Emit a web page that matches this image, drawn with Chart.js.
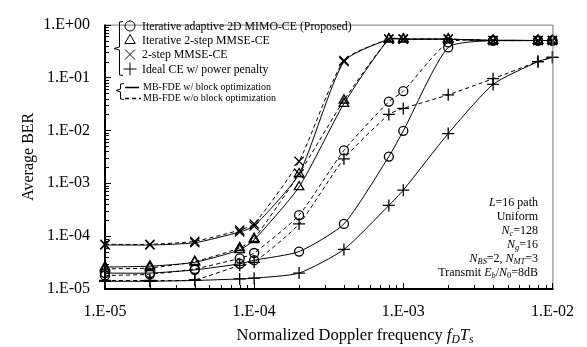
<!DOCTYPE html>
<html>
<head>
<meta charset="utf-8">
<script src="https://cdn.jsdelivr.net/npm/chart.js@4.4.0/dist/chart.umd.min.js"></script>
<style>
html, body { margin: 0; padding: 0; background: #fff; }
#wrap { width: 587px; height: 347px; }
</style>
</head>
<body>
<div id="wrap"><canvas id="c"></canvas></div>
<script>
// Normalized Doppler frequency fD*Ts
var dopplerFreq = [1e-5, 2e-5, 4e-5, 8e-5, 1e-4, 2e-4, 4e-4, 8e-4, 1e-3, 2e-3, 4e-3, 8e-3, 1e-2];

// Average BER
var adaptive2dBlock   = [2.0e-5, 2.0e-5, 2.3e-5, 3.0e-5, 3.5e-5, 5.1e-5, 1.7e-4, 3.2e-3, 9.8e-3, 0.37, 0.5, 0.5, 0.5];
var adaptive2dNoBlock = [1.8e-5, 1.9e-5, 2.4e-5, 3.8e-5, 4.8e-5, 2.5e-4, 4.2e-3, 0.035, 0.055, 0.46, 0.5, 0.5, 0.5];
var iter2stepBlock    = [2.6e-5, 2.7e-5, 3.2e-5, 5.5e-5, 8.5e-5, 8.5e-4, 0.032, 0.53, 0.53, 0.53, 0.5, 0.5, 0.5];
var iter2stepNoBlock  = [2.4e-5, 2.5e-5, 3.3e-5, 6.0e-5, 9.0e-5, 1.5e-3, 0.037, 0.53, 0.53, 0.53, 0.5, 0.5, 0.5];
var mmse2stepBlock    = [6.8e-5, 6.8e-5, 7.5e-5, 1.2e-4, 1.55e-4, 1.5e-3, 0.2, 0.53, 0.53, 0.53, 0.5, 0.5, 0.5];
var mmse2stepNoBlock  = [7.0e-5, 7.0e-5, 8.0e-5, 1.3e-4, 1.7e-4, 2.6e-3, 0.21, 0.53, 0.53, 0.53, 0.5, 0.5, 0.5];
var idealBlock        = [1.4e-5, 1.4e-5, 1.45e-5, 1.55e-5, 1.6e-5, 2.0e-5, 5.6e-5, 3.8e-4, 7.4e-4, 8.7e-3, 0.074, 0.2, 0.24];
var idealNoBlock      = [1.45e-5, 1.45e-5, 1.5e-5, 2.8e-5, 3.2e-5, 1.7e-4, 2.9e-3, 0.020, 0.026, 0.047, 0.095, 0.2, 0.24];

var xDecades = [1e-5, 1e-4, 1e-3, 1e-2];
var yDecades = [1e-5, 1e-4, 1e-3, 1e-2, 1e-1, 1];

var markerLabels = [
    'Iterative adaptive 2D MIMO-CE (Proposed)',
    'Iterative 2-step MMSE-CE',
    '2-step MMSE-CE',
    'Ideal CE w/ power penalty'
];
var lineLabels = ['MB-FDE w/ block optimization', 'MB-FDE w/o block optimization'];

var SERIF = '"Liberation Serif", "DejaVu Serif", serif';

function toPoints(arr) {
    return dopplerFreq.map(function (f, i) { return { x: f, y: arr[i] }; });
}

function makeSet(label, arr, style, radius, dashed) {
    return {
        label: label,
        data: toPoints(arr),
        showLine: true,
        borderColor: '#000',
        borderWidth: 1,
        borderDash: dashed ? [4, 3] : [],
        tension: 0.2,
        pointStyle: style,
        pointRadius: radius,
        pointHoverRadius: radius,
        pointBorderColor: '#000',
        pointBackgroundColor: 'rgba(0,0,0,0)',
        pointBorderWidth: 1.3,
        clip: false
    };
}

function fmtE(v) {
    var e = Math.round(Math.log10(v));
    var a = Math.abs(e);
    return '1.E' + (e < 0 ? '-' : '+') + (a < 10 ? '0' : '') + a;
}

// text runs with italic / subscript parts
function richWidth(ctx, parts, size) {
    var w = 0;
    parts.forEach(function (p) {
        var s = p.sub ? size * 0.7 : size;
        ctx.font = (p.i ? 'italic ' : '') + s + 'px ' + SERIF;
        w += ctx.measureText(p.t).width;
    });
    return w;
}

function drawRich(ctx, parts, x, y, size, align) {
    var w = richWidth(ctx, parts, size);
    var cx = align === 'right' ? x - w : (align === 'center' ? x - w / 2 : x);
    ctx.textAlign = 'left';
    ctx.textBaseline = 'alphabetic';
    parts.forEach(function (p) {
        var s = p.sub ? size * 0.7 : size;
        ctx.font = (p.i ? 'italic ' : '') + s + 'px ' + SERIF;
        ctx.fillText(p.t, cx, p.sub ? y + size * 0.2 : y);
        cx += ctx.measureText(p.t).width;
    });
}

var framePlugin = {
    id: 'frame',
    afterDraw: function (chart) {
        var ctx = chart.ctx;
        var a = chart.chartArea;
        var xs = chart.scales.x, ys = chart.scales.y;
        ctx.save();

        // thin top/right border
        ctx.strokeStyle = '#777';
        ctx.lineWidth = 1;
        ctx.beginPath();
        ctx.moveTo(a.left, a.top + 0.5);
        ctx.lineTo(a.right + 0.5, a.top + 0.5);
        ctx.lineTo(a.right + 0.5, a.bottom);
        ctx.stroke();

        // inward ticks
        ctx.strokeStyle = '#000';
        ctx.lineWidth = 1;
        ctx.beginPath();
        xDecades.forEach(function (d, i) {
            var px = Math.round(xs.getPixelForValue(d)) + 0.5;
            ctx.moveTo(px, a.bottom); ctx.lineTo(px, a.bottom - 6);
            if (i < xDecades.length - 1) {
                for (var k = 2; k <= 9; k++) {
                    var mx = Math.round(xs.getPixelForValue(k * d)) + 0.5;
                    ctx.moveTo(mx, a.bottom); ctx.lineTo(mx, a.bottom - 4);
                }
            }
        });
        yDecades.forEach(function (d, i) {
            var py = Math.round(ys.getPixelForValue(d)) + 0.5;
            ctx.moveTo(a.left, py); ctx.lineTo(a.left + 6, py);
            if (i < yDecades.length - 1) {
                for (var k = 2; k <= 9; k++) {
                    var my = Math.round(ys.getPixelForValue(k * d)) + 0.5;
                    ctx.moveTo(a.left, my); ctx.lineTo(a.left + 4, my);
                }
            }
        });
        ctx.stroke();

        // thick left/bottom axes
        ctx.lineWidth = 2;
        ctx.beginPath();
        ctx.moveTo(a.left, a.top);
        ctx.lineTo(a.left, a.bottom);
        ctx.lineTo(a.right + 1, a.bottom);
        ctx.stroke();

        ctx.fillStyle = '#000';

        // axis titles
        drawRich(ctx, [
            { t: 'Normalized Doppler frequency ' },
            { t: 'f', i: true }, { t: 'D', i: true, sub: true },
            { t: 'T', i: true }, { t: 's', i: true, sub: true }
        ], 355, 340, 16.5, 'center');

        ctx.save();
        ctx.translate(29, (a.top + a.bottom) / 2);
        ctx.rotate(-Math.PI / 2);
        ctx.font = '16px ' + SERIF;
        ctx.textAlign = 'center';
        ctx.textBaseline = 'middle';
        ctx.fillText('Average BER', 0, 0);
        ctx.restore();

        // legend brackets
        ctx.lineWidth = 1;
        ctx.beginPath();
        ctx.moveTo(123, 21.5); ctx.lineTo(119.5, 22); ctx.lineTo(119.5, 47);
        ctx.lineTo(114, 48.5); ctx.lineTo(119.5, 50); ctx.lineTo(119.5, 75); ctx.lineTo(123, 75.5);
        ctx.moveTo(124, 83.5); ctx.lineTo(120.5, 84); ctx.lineTo(120.5, 89);
        ctx.lineTo(116, 90.5); ctx.lineTo(120.5, 92); ctx.lineTo(120.5, 99); ctx.lineTo(124, 99.5);
        ctx.stroke();

        // legend markers
        var styles = [['circle', 5], ['triangle', 6], ['crossRot', 7], ['cross', 6.5]];
        var my = [26, 40.5, 54.5, 69];
        ctx.fillStyle = 'rgba(0,0,0,0)';
        ctx.strokeStyle = '#000';
        styles.forEach(function (s, i) {
            Chart.helpers.drawPoint(ctx, {
                pointStyle: s[0], radius: s[1], rotation: 0, borderWidth: 1.4
            }, 130, my[i]);
        });
        ctx.fillStyle = '#000';
        ctx.font = '11.8px ' + SERIF;
        ctx.textAlign = 'left';
        ctx.textBaseline = 'middle';
        markerLabels.forEach(function (t, i) { ctx.fillText(t, 142, my[i] + 0.5); });

        // legend line samples
        ctx.lineWidth = 1.5;
        ctx.beginPath();
        ctx.moveTo(125, 87.5); ctx.lineTo(139, 87.5);
        ctx.stroke();
        ctx.setLineDash([4, 3]);
        ctx.beginPath();
        ctx.moveTo(125, 98.5); ctx.lineTo(141, 98.5);
        ctx.stroke();
        ctx.setLineDash([]);
        ctx.font = '10px ' + SERIF;
        ctx.fillText(lineLabels[0], 143, 87.5);
        ctx.fillText(lineLabels[1], 143, 98.5);

        // parameter annotation
        var notes = [
            [{ t: 'L', i: true }, { t: '=16 path' }],
            [{ t: 'Uniform' }],
            [{ t: 'N', i: true }, { t: 'c', i: true, sub: true }, { t: '=128' }],
            [{ t: 'N', i: true }, { t: 'g', i: true, sub: true }, { t: '=16' }],
            [{ t: 'N', i: true }, { t: 'BS', i: true, sub: true }, { t: '=2, ' },
             { t: 'N', i: true }, { t: 'MT', i: true, sub: true }, { t: '=3' }],
            [{ t: 'Transmit ' }, { t: 'E', i: true }, { t: 'b', i: true, sub: true },
             { t: '/' }, { t: 'N', i: true }, { t: '0', sub: true }, { t: '=8dB' }]
        ];
        notes.forEach(function (n, i) { drawRich(ctx, n, 538, 206 + i * 14, 12, 'right'); });

        ctx.restore();
    }
};

new Chart(document.getElementById('c'), {
    type: 'scatter',
    data: {
        datasets: [
            makeSet('adaptive2dBlock', adaptive2dBlock, 'circle', 4.5, false),
            makeSet('adaptive2dNoBlock', adaptive2dNoBlock, 'circle', 4.5, true),
            makeSet('iter2stepBlock', iter2stepBlock, 'triangle', 5.5, false),
            makeSet('iter2stepNoBlock', iter2stepNoBlock, 'triangle', 5.5, true),
            makeSet('mmse2stepBlock', mmse2stepBlock, 'crossRot', 6.5, false),
            makeSet('mmse2stepNoBlock', mmse2stepNoBlock, 'crossRot', 6.5, true),
            makeSet('idealBlock', idealBlock, 'cross', 6, false),
            makeSet('idealNoBlock', idealNoBlock, 'cross', 6, true)
        ]
    },
    options: {
        responsive: true,
        maintainAspectRatio: false,
        animation: false,
        layout: { padding: { top: 15, right: 34, left: 0, bottom: 0 } },
        plugins: { legend: { display: false }, tooltip: { enabled: false } },
        scales: {
            x: {
                type: 'logarithmic',
                min: 1e-5,
                max: 1e-2,
                grid: { display: false, drawTicks: false },
                border: { display: false },
                afterBuildTicks: function (s) { s.ticks = xDecades.map(function (v) { return { value: v, major: true }; }); },
                afterFit: function (s) { s.height = 58; },
                ticks: {
                    autoSkip: false,
                    maxRotation: 0,
                    padding: 13,
                    color: '#000',
                    font: { family: SERIF, size: 16 },
                    callback: function (v) { return fmtE(v); }
                }
            },
            y: {
                type: 'logarithmic',
                min: 1e-5,
                max: 1,
                grid: { display: false, drawTicks: false },
                border: { display: false },
                afterBuildTicks: function (s) { s.ticks = yDecades.map(function (v) { return { value: v, major: true }; }); },
                afterFit: function (s) { s.width = 105; },
                ticks: {
                    autoSkip: false,
                    padding: 15,
                    color: '#000',
                    font: { family: SERIF, size: 16 },
                    callback: function (v) { return fmtE(v); }
                }
            }
        }
    },
    plugins: [framePlugin]
});
</script>
</body>
</html>
